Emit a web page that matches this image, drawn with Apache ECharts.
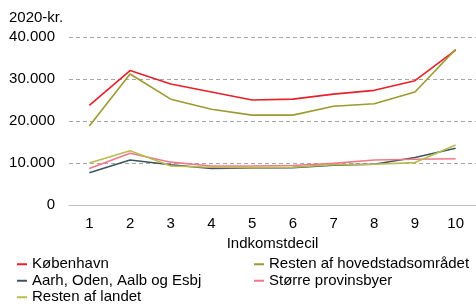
<!DOCTYPE html>
<html lang="da">
<head>
    <meta charset="UTF-8">
    <title>Indkomstdecil</title>
    <script src="https://cdn.jsdelivr.net/npm/echarts@6/dist/echarts.min.js"></script>
    <style>
        html, body { margin: 0; padding: 0; background: #fff; }
        #main { width: 476px; height: 305px; }
    </style>
</head>
<body>
<div id="main"></div>
<script>
// decil 1..10
var deciler = ['1', '2', '3', '4', '5', '6', '7', '8', '9', '10'];

var koebenhavn = [23700, 32000, 28800, 26900, 25000, 25200, 26400, 27300, 29600, 36900];
var restHovedstad = [18800, 31200, 25200, 22800, 21400, 21400, 23500, 24100, 26900, 37100];
var aarhOdenAalbEsbj = [7700, 10700, 9600, 8700, 8800, 8900, 9500, 9700, 11300, 13500];
var stoerreProvins = [8700, 12300, 10200, 9300, 9300, 9400, 9900, 10700, 10900, 11000];
var restLandet = [10000, 12900, 9300, 9000, 8900, 9000, 9600, 9700, 10100, 14300];

var chart = echarts.init(document.getElementById('main'));
var font = 'Liberation Sans, Arial, sans-serif';

function linje(navn, data, farve) {
    return {
        name: navn,
        type: 'line',
        data: data,
        symbol: 'none',
        lineStyle: { width: 1.6, color: farve },
        itemStyle: { color: farve },
        animation: false
    };
}

var legendTekst = { fontSize: 15, color: '#000', lineHeight: 16.5 };

chart.setOption({
    textStyle: { fontFamily: font },
    title: {
        text: '2020-kr.',
        left: 9,
        top: 10,
        padding: 0,
        textStyle: { fontSize: 15, fontWeight: 'normal', color: '#000' }
    },
    legend: [
        {
            orient: 'vertical',
            left: 17,
            top: 256,
            height: 60,
            padding: 0,
            itemWidth: 10,
            itemHeight: 2,
            itemGap: 0,
            icon: 'rect',
            textStyle: legendTekst,
            data: ['København', 'Aarh, Oden, Aalb og Esbj', 'Resten af landet']
        },
        {
            orient: 'vertical',
            left: 254,
            top: 256,
            height: 60,
            padding: 0,
            itemWidth: 10,
            itemHeight: 2,
            itemGap: 0,
            icon: 'rect',
            textStyle: legendTekst,
            data: ['Resten af hovedstadsområdet', 'Større provinsbyer']
        }
    ],
    grid: { left: 69, top: 37, width: 410, height: 168 },
    xAxis: {
        type: 'category',
        data: deciler,
        name: 'Indkomstdecil',
        nameLocation: 'middle',
        nameGap: 31,
        nameTextStyle: { fontSize: 15, color: '#000' },
        axisLine: { lineStyle: { color: '#bfbfbf', width: 1 } },
        axisTick: { length: 5, lineStyle: { color: '#bfbfbf' } },
        axisLabel: { fontSize: 15, color: '#000', margin: 11 }
    },
    yAxis: {
        type: 'value',
        min: 0,
        max: 40000,
        interval: 10000,
        axisLine: { show: false },
        axisTick: { show: false },
        axisLabel: {
            fontSize: 15,
            color: '#000',
            margin: 14,
            formatter: function (v) {
                return v === 0 ? '0' : String(v).replace(/\B(?=(\d{3})+(?!\d))/g, '.');
            }
        },
        splitLine: { lineStyle: { color: '#a6a6a6', type: [4, 3], width: 1 } }
    },
    series: [
        linje('København', koebenhavn, '#e8202a'),
        linje('Resten af hovedstadsområdet', restHovedstad, '#9c9a30'),
        linje('Aarh, Oden, Aalb og Esbj', aarhOdenAalbEsbj, '#3d5560'),
        linje('Større provinsbyer', stoerreProvins, '#f0788a'),
        linje('Resten af landet', restLandet, '#b8bb4e')
    ]
});
</script>
</body>
</html>
